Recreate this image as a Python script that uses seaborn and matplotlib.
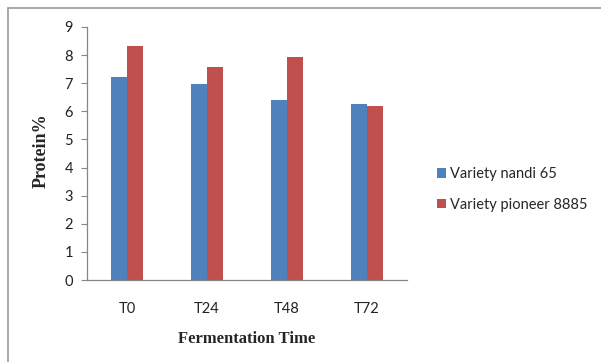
import matplotlib
matplotlib.use("Agg")
import matplotlib.pyplot as plt
import seaborn as sns
import pandas as pd
from matplotlib.lines import Line2D

times = ["T0", "T24", "T48", "T72"]
nandi_65 = [7.22, 6.97, 6.40, 6.25]
pioneer_8885 = [8.31, 7.57, 7.94, 6.20]
series_names = ["Variety nandi 65", "Variety pioneer 8885"]
colors = ["#4F81BD", "#C0504D"]

df = pd.DataFrame({
    "time": times * 2,
    "protein": nandi_65 + pioneer_8885,
    "variety": [series_names[0]] * 4 + [series_names[1]] * 4,
})

sns.set_style("white")
plt.rcParams["font.family"] = ["Lato", "DejaVu Sans"]

W, H = 601, 362
fig = plt.figure(figsize=(W / 100, H / 100), dpi=100)
ax = fig.add_axes([87 / W, (H - 280) / H, 320 / W, 253 / H])

sns.barplot(data=df, x="time", y="protein", hue="variety", palette=colors,
            width=0.4, ax=ax, saturation=1, legend=True, linewidth=0)

ax.set_ylim(0, 9)
ax.set_xlim(-0.5, 3.5)
ax.set_yticks(range(0, 10))
ax.tick_params(axis="y", length=4, width=0.8, color="#868686", direction="out",
               labelsize=10.5, pad=6, left=True, labelcolor="#222222")
ax.tick_params(axis="x", length=0, labelsize=10.5, pad=16, labelcolor="#222222")
for s in ["top", "right"]:
    ax.spines[s].set_visible(False)
for s in ["left", "bottom"]:
    ax.spines[s].set_color("#868686")
    ax.spines[s].set_linewidth(0.9)

ax.set_xlabel("")
ax.set_ylabel("")
fig.text(41 / W, 1 - 151 / H, "Protein%", rotation=90, ha="center", va="center",
         family="Liberation Serif", fontweight="bold", fontsize=13)
fig.text(247 / W, 1 - 339 / H, "Fermentation Time", ha="center", va="center",
         family="Liberation Serif", fontweight="bold", fontsize=12)

leg = ax.legend(loc="upper left", bbox_to_anchor=(424 / W, 1 - 154 / H),
                bbox_transform=fig.transFigure, frameon=False, fontsize=10.5,
                handlelength=0.6, handleheight=0.6, handletextpad=0.3,
                labelspacing=1.15)

# Outer frame: top and left edges only
fig.lines.append(Line2D([8 / W, 1.0], [1 - 8 / H, 1 - 8 / H], transform=fig.transFigure,
                        color="#9a9a9a", linewidth=1.2))
fig.lines.append(Line2D([8 / W, 8 / W], [0.0, 1 - 8 / H], transform=fig.transFigure,
                        color="#9a9a9a", linewidth=1.2))

fig.savefig("out.png", dpi=100)
